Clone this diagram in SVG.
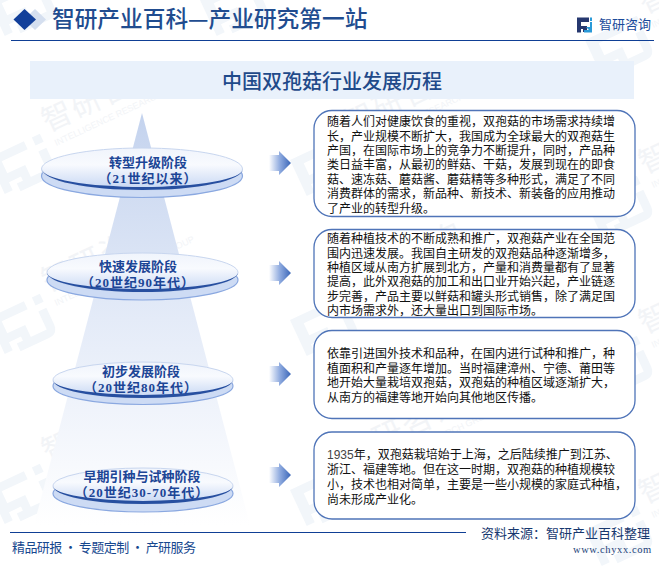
<svg xmlns="http://www.w3.org/2000/svg" width="659" height="569" viewBox="0 0 659 569">
<style>
text{font-family:"Noto Sans CJK SC",sans-serif}
.body{font-size:12px;fill:#111}
.lab{font-family:"Liberation Serif","Noto Sans CJK SC",serif;font-size:13px;font-weight:700;fill:#1c4596;text-anchor:middle}
.l2{letter-spacing:1px}
.box{fill:#fff;stroke:#4f74b8;stroke-width:1.3}
.wm{fill:#f2f6fa}
.wmt{font-size:30px;fill:#f2f4f7}
.wme{font-family:"Liberation Sans",sans-serif;font-size:9px;fill:#f2f4f7}
.ell{fill:url(#plate);stroke:#c8d6ef;stroke-width:1}
.under{fill:#cddbf4;stroke:#8aa8e0;stroke-width:1.2}
.cres{fill:#274fa0}
.arr{fill:url(#ag)}
</style>
<defs>
<linearGradient id="cone" x1="0" y1="0" x2="0" y2="1"><stop offset="0" stop-color="#c4d3ee"/><stop offset=".5" stop-color="#e4ebf8"/><stop offset="1" stop-color="#fff"/></linearGradient>
<linearGradient id="plate" x1="0" y1="0" x2="0" y2="1"><stop offset="0" stop-color="#f0f4fc"/><stop offset=".4" stop-color="#f8fafe"/><stop offset="1" stop-color="#c4d5f3"/></linearGradient>
<linearGradient id="ag" x1="0" y1="0" x2="1" y2="0"><stop offset="0" stop-color="#fff"/><stop offset=".5" stop-color="#8eaadf"/><stop offset="1" stop-color="#3a66b8"/></linearGradient>
<g id="mark">
<path class="wm" d="M0 0H36V8H10V20H28V36H20V28H8V36H0Z"/>
<path class="wm" d="M44 0H52V8H44ZM44 14H52V30Q52 40 42 40H14V32H44Z"/>
</g>
<g id="wmk">
<use href="#mark" transform="rotate(-25) scale(1.1)"/>
<text class="wmt" x="65" y="2" transform="rotate(-25)" letter-spacing="2">智研咨询</text>
<text class="wme" x="67" y="18" transform="rotate(-25)">INTELLIGENCE RESEARCH GROUP</text>
</g>
</defs>
<rect width="659" height="569" fill="#fff"/>
<g id="watermarks">
<use href="#wmk" x="-12" y="158"/><use href="#wmk" x="-12" y="318"/><use href="#wmk" x="-12" y="488"/><use href="#wmk" x="-12" y="0"/>
<use href="#wmk" x="290" y="160"/><use href="#wmk" x="290" y="320"/><use href="#wmk" x="290" y="490"/><use href="#wmk" x="200" y="0"/>
<use href="#wmk" x="585" y="40"/><use href="#wmk" x="585" y="200"/><use href="#wmk" x="585" y="360"/><use href="#wmk" x="585" y="530"/>
</g>
<g id="header">
<path d="M35 9L46 19.500L35 30L24 19.500Z" fill="#d5dfef"/>
<path d="M24.500 9L36 19.500L24.500 30L13.500 19.500Z" fill="#123f9a"/>
<text x="52" y="27" font-size="22.700" font-weight="500" fill="#214c8f">智研产业百科—产业研究第一站</text>
<path d="M11 40.500H654" stroke="#0f3f95" stroke-width="1.200"/>
<g id="logo">
<path d="M577 17.500H589V22H581V26H587V32H583V29H581V32.500H577Z" fill="#26386f"/>
<path d="M590 17.500H592V21H590ZM586 27H590V22H592V32.500H584V30H589Z" fill="#2a9ad8"/>
</g>
<text x="599" y="29" font-size="13" fill="#1b4a9a">智研咨询</text>
</g>
<g id="title">
<rect x="30" y="61" width="604" height="38" fill="#e9f1fb"/>
<text x="332" y="89" font-size="20" font-weight="500" fill="#1f4a8a" text-anchor="middle">中国双孢菇行业发展历程</text>
</g>
<polygon id="cone-shape" points="142,113 250,525 34,525" fill="url(#cone)"/>
<g id="connectors">
<path class="arr" d="M269 155H279V151L291 163L279 175V171H269Z"/>
<path class="arr" d="M269 265H279V261L291 273L279 285V281H269Z"/>
<path class="arr" d="M269 366H279V362L291 374L279 386V382H269Z"/>
<path class="arr" d="M269 467H279V463L291 475L279 487V483H269Z"/>
</g>
<g id="stage1">
<ellipse class="under" cx="142" cy="176" rx="100.500" ry="21.500"/>
<ellipse class="ell" cx="142" cy="169" rx="100.500" ry="21"/>
<path class="cres" d="M42 169A100.500 21 0 0 0 243 169A100.500 18 0 0 1 42 169Z"/>
<text class="lab" x="148" y="167"><tspan x="148">转型升级阶段</tspan><tspan class="l2" x="148" dy="16">（21世纪以来）</tspan></text>
</g>
<g id="stage2">
<ellipse class="under" cx="142.500" cy="280" rx="95.500" ry="20"/>
<ellipse class="ell" cx="142.500" cy="272.500" rx="95.500" ry="19.500"/>
<path class="cres" d="M47 272.500A95.500 19.500 0 0 0 238 272.500A95.500 16.500 0 0 1 47 272.500Z"/>
<text class="lab" x="138" y="271"><tspan x="138">快速发展阶段</tspan><tspan class="l2" x="138" dy="16">（20世纪90年代）</tspan></text>
</g>
<g id="stage3">
<ellipse class="under" cx="143" cy="386" rx="90" ry="18.500"/>
<ellipse class="ell" cx="143" cy="380" rx="90" ry="18"/>
<path class="cres" d="M53 380A90 18 0 0 0 233 380A90 15 0 0 1 53 380Z"/>
<text class="lab" x="141" y="376"><tspan x="141">初步发展阶段</tspan><tspan class="l2" x="141" dy="16">（20世纪80年代）</tspan></text>
</g>
<g id="stage4">
<ellipse class="under" cx="143" cy="493.500" rx="90" ry="18.500"/>
<ellipse class="ell" cx="143" cy="486" rx="90" ry="18"/>
<path class="cres" d="M53 486A90 18 0 0 0 233 486A90 15 0 0 1 53 486Z"/>
<text class="lab" x="142" y="481"><tspan x="142">早期引种与试种阶段</tspan><tspan class="l2" x="142" dy="16">（20世纪30-70年代）</tspan></text>
</g>
<g id="desc1">
<rect class="box" x="314" y="110.500" width="321" height="106" rx="18"/>
<text class="body"><tspan x="327" y="126">随着人们对健康饮食的重视，双孢菇的市场需求持续增</tspan><tspan x="327" y="140.500">长，产业规模不断扩大，我国成为全球最大的双孢菇生</tspan><tspan x="327" y="155">产国，在国际市场上的竞争力不断提升，同时，产品种</tspan><tspan x="327" y="169">类日益丰富，从最初的鲜菇、干菇，发展到现在的即食</tspan><tspan x="327" y="183.500">菇、速冻菇、蘑菇酱、蘑菇精等多种形式，满足了不同</tspan><tspan x="327" y="198">消费群体的需求，新品种、新技术、新装备的应用推动</tspan><tspan x="327" y="212.500">了产业的转型升级。</tspan></text>
</g>
<g id="desc2">
<rect class="box" x="314" y="229.500" width="321" height="88" rx="18"/>
<text class="body"><tspan x="327" y="242.500">随着种植技术的不断成熟和推广，双孢菇产业在全国范</tspan><tspan x="327" y="257.500">围内迅速发展。我国自主研发的双孢菇品种逐渐增多，</tspan><tspan x="327" y="271.500">种植区域从南方扩展到北方，产量和消费量都有了显著</tspan><tspan x="327" y="286">提高，此外双孢菇的加工和出口业开始兴起，产业链逐</tspan><tspan x="327" y="301">步完善，产品主要以鲜菇和罐头形式销售，除了满足国</tspan><tspan x="327" y="315">内市场需求外，还大量出口到国际市场。</tspan></text>
</g>
<g id="desc3">
<rect class="box" x="314" y="330.500" width="321" height="88" rx="18"/>
<text class="body"><tspan x="327" y="357.500">依靠引进国外技术和品种，在国内进行试种和推广，种</tspan><tspan x="327" y="372.500">植面积和产量逐年增加。当时福建漳州、宁德、莆田等</tspan><tspan x="327" y="386.500">地开始大量栽培双孢菇，双孢菇的种植区域逐渐扩大，</tspan><tspan x="327" y="402">从南方的福建等地开始向其他地区传播。</tspan></text>
</g>
<g id="desc4">
<rect class="box" x="314" y="432" width="321" height="87" rx="18"/>
<text class="body"><tspan x="327" y="458.500" font-family="Liberation Sans" fill="#444" style="font-family:'Liberation Sans',sans-serif">1935</tspan><tspan>年，双孢菇栽培始于上海，之后陆续推广到江苏、</tspan><tspan x="327" y="473.500">浙江、福建等地。但在这一时期，双孢菇的种植规模较</tspan><tspan x="327" y="488.500">小，技术也相对简单，主要是一些小规模的家庭式种植，</tspan><tspan x="327" y="503.500">尚未形成产业化。</tspan></text>
</g>
<g id="footer">
<path d="M10 532.500H466" stroke="#0f3f95" stroke-width="1.200"/>
<text x="12" y="552" font-size="13" textLength="184" fill="#17488f">精品研报 · 专题定制 · 产研服务</text>
<text x="481" y="538" font-size="13" fill="#17386f">资料来源：智研产业百科整理</text>
<text x="573" y="553" font-size="10.500" letter-spacing=".6" fill="#1d3f78" style="font-family:'Liberation Serif',serif">www.chyxx.com</text>
</g>
</svg>
